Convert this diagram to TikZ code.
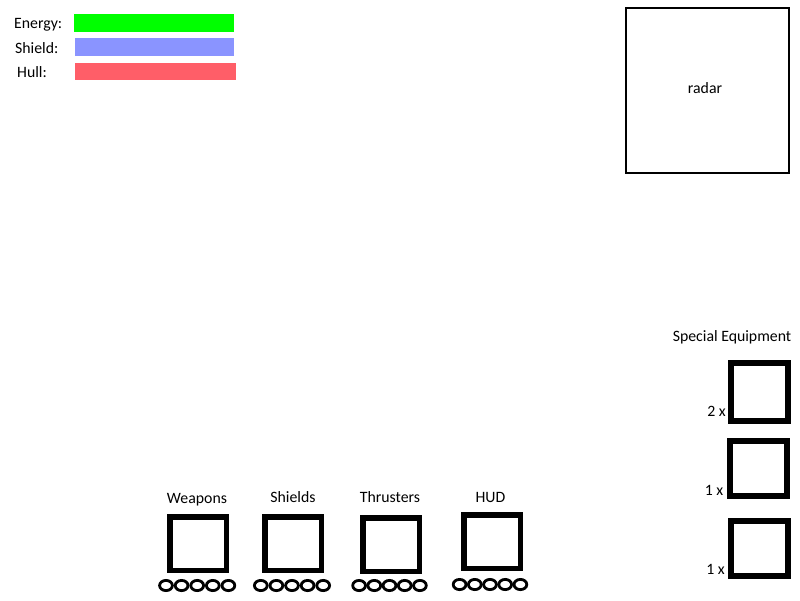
\documentclass[tikz,border=0pt]{standalone}
\usepackage{fontspec}
\setmainfont{Carlito}
\usetikzlibrary{shapes.geometric}
\definecolor{egreen}{RGB}{0,255,0}
\definecolor{sblue}{RGB}{138,148,255}
\definecolor{hred}{RGB}{255,94,104}
\begin{document}
\begin{tikzpicture}[x=1pt,y=-1pt,
  lbl/.style={inner sep=0pt, font=\fontsize{15.8}{19}\selectfont},
  bar/.style={draw=none, inner sep=0pt, minimum height=18pt},
  slot/.style={draw, line width=5.5pt, minimum width=56.5pt, minimum height=53.5pt, inner sep=0pt},
  sslot/.style={draw, line width=5.8pt, minimum width=57.2pt, minimum height=55.5pt, inner sep=0pt},
  pip/.style={ellipse, draw, line width=2.8pt, minimum width=12.8pt, minimum height=10.2pt, inner sep=0pt},
  radarbox/.style={draw, line width=2pt, minimum width=163pt, minimum height=165pt, inner sep=0pt}]
\useasboundingbox (0,0) rectangle (800,600);

% status bars
\node[lbl, anchor=base west] (energylbl) at (14,28) {Energy:};
\node[lbl, anchor=base west] (shieldlbl) at (15,53.3) {Shield:};
\node[lbl, anchor=base west] (hulllbl) at (17,77.3) {Hull:};
\node[bar, fill=egreen, minimum width=160pt] (energybar) at (154,23) {};
\node[bar, fill=sblue, minimum width=159pt] (shieldbar) at (154.5,47) {};
\node[bar, fill=hred, minimum width=161pt, minimum height=17pt] (hullbar) at (155.5,71.5) {};

% radar
\node[radarbox] (radar) at (707.5,90.5) {};
\node[lbl, anchor=base] (radarlbl) at (705,93.3) {radar};

% bottom slots
\node[slot] (weapons) at (198,543.5) {};
\node[slot] (shields) at (293,543.5) {};
\node[slot] (thrusters) at (391,544.5) {};
\node[slot] (hud) at (492,541.5) {};
\node[lbl, anchor=base] (weaponslbl) at (197,503) {Weapons};
\node[lbl, anchor=base] (shieldslbl) at (293,502.5) {Shields};
\node[lbl, anchor=base] (thrusterslbl) at (390,502.5) {Thrusters};
\node[lbl, anchor=base] (hudlbl) at (490.5,502.5) {HUD};

\foreach \i in {1,...,5} {
  \node[pip] (w\i) at ({197.2+(\i-3)*15.6},585.5) {};
  \node[pip] (s\i) at ({292+(\i-3)*15.6},585.5) {};
  \node[pip] (t\i) at ({389.5+(\i-3)*15.2},585.5) {};
  \node[pip] (h\i) at ({490+(\i-3)*15.2},584.5) {};
}

% special equipment
\node[lbl, anchor=base] (speclbl) at (732,341.5) {Special Equipment};
\node[sslot, minimum height=58pt] (sp1) at (759.5,392) {};
\node[sslot] (sp2) at (758.5,468.5) {};
\node[sslot] (sp3) at (759.5,548.5) {};
\node[lbl, anchor=base east] (sp1lbl) at (726,416) {2 x};
\node[lbl, anchor=base east] (sp2lbl) at (723.5,495) {1 x};
\node[lbl, anchor=base east] (sp3lbl) at (725,574) {1 x};
\end{tikzpicture}
\end{document}
